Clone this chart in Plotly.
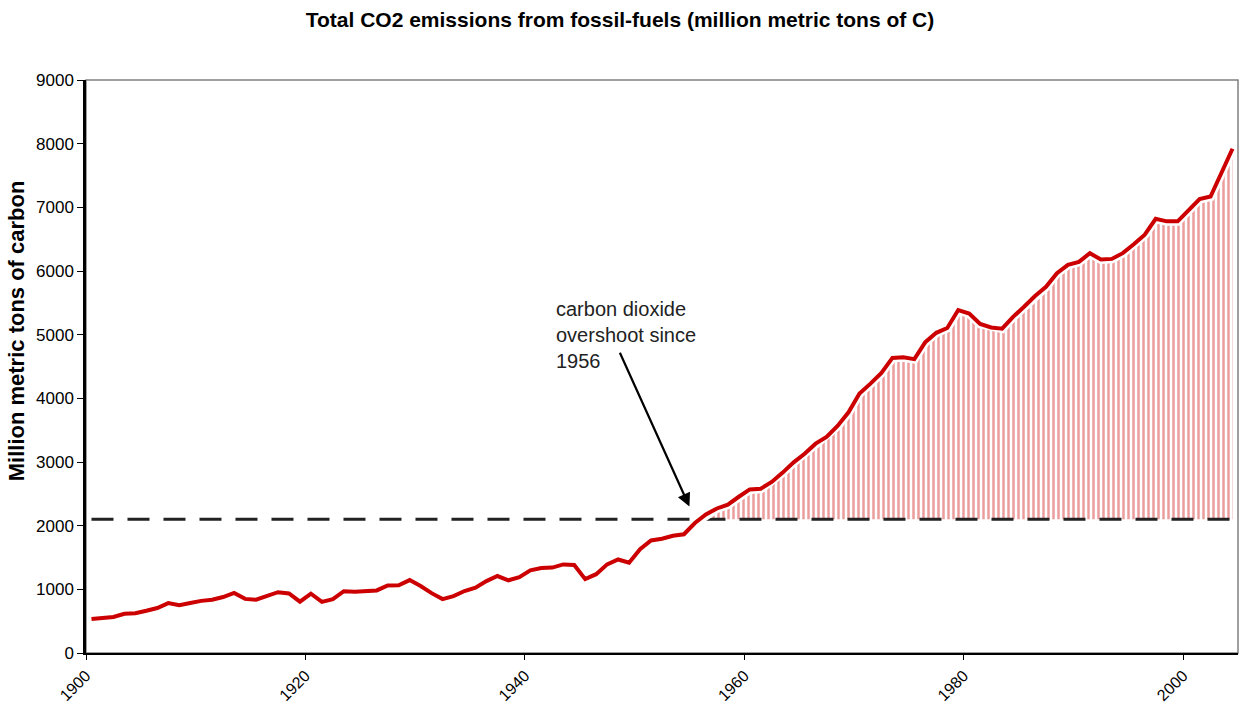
import plotly.graph_objects as go

years = list(range(1900, 2005))
emissions = [
    534, 552, 566, 617, 624, 663, 707, 784, 750, 785,
    819, 836, 879, 943, 850, 838, 901, 955, 936, 806,
    932, 803, 845, 970, 963, 975, 983, 1062, 1065, 1145,
    1053, 940, 847, 893, 973, 1027, 1130, 1209, 1142, 1192,
    1299, 1334, 1342, 1391, 1383, 1160, 1238, 1392, 1469, 1419,
    1630, 1767, 1795, 1841, 1865, 2042, 2177, 2270, 2330, 2454,
    2569, 2580, 2686, 2833, 2995, 3130, 3288, 3393, 3566, 3780,
    4076, 4231, 4399, 4635, 4644, 4615, 4883, 5029, 5105, 5387,
    5332, 5168, 5113, 5094, 5280, 5439, 5607, 5752, 5965, 6097,
    6144, 6280, 6180, 6190, 6280, 6420, 6570, 6820, 6780, 6780,
    6960, 7130, 7170, 7540, 7920,
]
threshold = 2100
overshoot_start = 1956

tick_years = [1900, 1920, 1940, 1960, 1980, 2000]
y_ticks = list(range(0, 9001, 1000))

title_text = "Total CO2 emissions from fossil-fuels (million metric tons of C)"
y_title = "Million metric tons of carbon"
note_text = "carbon dioxide<br>overshoot since<br>1956"

font_family = "Liberation Sans, Arial, sans-serif"

over_years = [y for y in years if y >= overshoot_start]
over_vals = [v for y, v in zip(years, emissions) if y >= overshoot_start]

fig = go.Figure()

# baseline for the hatched overshoot area
fig.add_trace(go.Scatter(
    x=over_years, y=[threshold] * len(over_years),
    mode="lines", line=dict(width=0), hoverinfo="skip"
))
fig.add_trace(go.Scatter(
    x=over_years, y=over_vals,
    mode="lines", line=dict(width=0),
    fill="tonexty",
    fillpattern=dict(shape="|", size=5, solidity=0.5,
                     fgcolor="#d83c3c", bgcolor="#ffffff"),
    hoverinfo="skip"
))

# dashed threshold line
fig.add_trace(go.Scatter(
    x=[years[0], years[-1]], y=[threshold, threshold],
    mode="lines", line=dict(color="#222222", width=3, dash="22px,14px")
))

# white halo + red emissions line
fig.add_trace(go.Scatter(
    x=years, y=emissions, mode="lines",
    line=dict(color="#ffffff", width=9), hoverinfo="skip"
))
fig.add_trace(go.Scatter(
    x=years, y=emissions, mode="lines",
    line=dict(color="#cc0000", width=4)
))

fig.add_annotation(
    x=1942.2, y=5600, text=note_text, showarrow=False,
    xanchor="left", yanchor="top", align="left",
    font=dict(size=20, color="#222222", family=font_family)
)
fig.add_annotation(
    x=1954.5, y=2300, ax=1948.1, ay=4740,
    xref="x", yref="y", axref="x", ayref="y",
    text="", showarrow=True, arrowhead=2, arrowsize=1.2,
    arrowwidth=2.2, arrowcolor="#000000"
)

# y axis title, sits a bit above the axis centre like the original
fig.add_annotation(
    x=-0.06, y=0.563, xref="paper", yref="paper",
    text="<b>" + y_title + "</b>", showarrow=False, textangle=-90,
    xanchor="center", yanchor="middle",
    font=dict(size=22, color="#000000", family=font_family)
)

# gray frame on the top and right
fig.add_shape(
    type="rect", xref="paper", yref="paper", x0=0, x1=1, y0=0, y1=1,
    line=dict(color="#808080", width=1.5), layer="below"
)

fig.update_xaxes(
    range=[1899.5, 2004.5],
    tickvals=[t - 0.5 for t in tick_years],
    ticktext=[str(t) for t in tick_years],
    tickangle=-45, ticks="outside", ticklen=5, tickcolor="#000000",
    showline=True, linecolor="#000000", linewidth=2,
    showgrid=False, zeroline=False,
    tickfont=dict(size=16, color="#000000", family=font_family)
)
fig.update_yaxes(
    range=[0, 9000], tickvals=y_ticks,
    ticks="outside", ticklen=6, tickcolor="#000000",
    showline=True, linecolor="#000000", linewidth=2.5,
    showgrid=False, zeroline=False,
    tickfont=dict(size=17, color="#000000", family=font_family)
)

fig.update_layout(
    title=dict(text="<b>" + title_text + "</b>", x=0.5, xanchor="center",
               y=0.972, yref="container", yanchor="middle",
               font=dict(size=21, color="#000000", family=font_family)),
    width=1240, height=709,
    margin=dict(l=86, r=2, t=80, b=56, autoexpand=False),
    plot_bgcolor="#ffffff", paper_bgcolor="#ffffff",
    showlegend=False,
    font=dict(family=font_family)
)

fig.write_html("out.html", config={"displayModeBar": False},
               post_script="document.body.style.margin='0';")
